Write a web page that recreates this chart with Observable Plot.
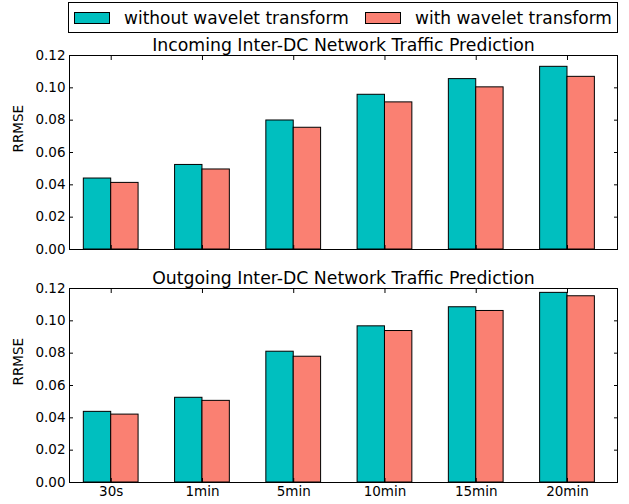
<!DOCTYPE html>
<html><head><meta charset="utf-8">
<script src="https://cdn.jsdelivr.net/npm/d3@7"></script>
<script src="https://cdn.jsdelivr.net/npm/@observablehq/plot@0.6"></script>
<style>
body{margin:0;background:#fff;font-family:"DejaVu Sans",sans-serif;}
#wrap{position:relative;width:629px;height:504px;overflow:hidden;}
#legend{position:absolute;left:68px;top:2px;width:548px;height:29px;border:1px solid #000;box-sizing:content-box;font-size:17px;color:#000;}
.item{position:absolute;top:0;height:30px;display:flex;align-items:center;white-space:nowrap;}
.sw{display:inline-block;width:34px;height:10px;border:1px solid #000;margin-right:14px;}
.panel{position:absolute;left:0;}
svg{overflow:visible;}
</style></head><body><div id="wrap"><div id="legend"></div></div>
<script>
const categories = ["30s","1min","5min","10min","15min","20min"];
const seriesNames = ["without wavelet transform","with wavelet transform"];
const incomingWithout = [0.0439,0.0523,0.0798,0.0957,0.1054,0.1130];
const incomingWith    = [0.0412,0.0495,0.0753,0.0910,0.1003,0.1068];
const outgoingWithout = [0.0437,0.0524,0.0809,0.0966,0.1084,0.1173];
const outgoingWith    = [0.0420,0.0505,0.0778,0.0937,0.1061,0.1152];
const yTicks = [0,0.02,0.04,0.06,0.08,0.10,0.12];
const titles = ["Incoming Inter-DC Network Traffic Prediction","Outgoing Inter-DC Network Traffic Prediction"];
const yLabel = "RRMSE";
const colors = ["#00BFBF","#FA8072"];

const wrap = document.getElementById("wrap");
const legend = document.getElementById("legend");
const legendX = [5, 296];
seriesNames.forEach((s,k)=>{
  const it = document.createElement("div");
  it.className = "item";
  it.style.left = legendX[k] + "px";
  it.innerHTML = `<span class="sw" style="background:${colors[k]}"></span><span>${s}</span>`;
  legend.appendChild(it);
});

const bw = 0.3;
function panel(title, without, withW, top, height, marginTop, marginBottom, showLabels){
  const rows = categories.flatMap((c,i)=>[
    {cat:c, i, s:0, v:without[i]},
    {cat:c, i, s:1, v:withW[i]}
  ]);
  const xt = categories.map((c,i)=>i);
  const marks = [
    Plot.rect(rows, {
      x1: d => d.i - bw + d.s*bw,
      x2: d => d.i + d.s*bw,
      y1: 0, y2: d => d.v,
      fill: d => seriesNames[d.s],
      stroke: "black", strokeWidth: 1
    }),
    Plot.frame({stroke:"black", strokeWidth:1}),
    Plot.axisY(yTicks, {anchor:"left", tickSize:0, tickPadding:4, tickFormat:d3.format(".2f"), fontSize:13.5, label:null}),
    Plot.axisY(yTicks, {anchor:"left", tickSize:-4, tickFormat:()=>"", label:null}),
    Plot.axisY(yTicks, {anchor:"right", tickSize:-4, tickFormat:()=>"", label:null}),
    Plot.axisX(xt, {anchor:"top", tickSize:-4, tickFormat:()=>"", label:null}),
    Plot.axisX(xt, {anchor:"bottom", tickSize:-4, tickFormat:()=>"", label:null}),
    Plot.text([title], {frameAnchor:"top", lineAnchor:"bottom", dy:-5, fontSize:17.3, fill:"black"}),
    Plot.text([yLabel], {frameAnchor:"left", rotate:-90, dx:-51, fontSize:13.5, fill:"black"})
  ];
  if (showLabels) marks.push(Plot.axisX(xt, {anchor:"bottom", tickSize:0, tickPadding:4, tickFormat:i=>categories[i], fontSize:13.5, label:null}));
  const p = Plot.plot({
    width:629, height, marginLeft:69, marginRight:12, marginTop, marginBottom,
    style:{fontFamily:"DejaVu Sans", color:"black", background:"transparent"},
    x:{type:"linear", domain:[-0.457, 5.548], axis:null},
    y:{domain:[0,0.12], axis:null},
    color:{domain:seriesNames, range:colors},
    marks
  });
  p.classList.add("panel");
  p.style.top = top + "px";
  wrap.appendChild(p);
}
panel(titles[0], incomingWithout, incomingWith, 34, 228, 21, 13, false);
panel(titles[1], outgoingWithout, outgoingWith, 262, 242, 26, 22, true);
</script></body></html>
